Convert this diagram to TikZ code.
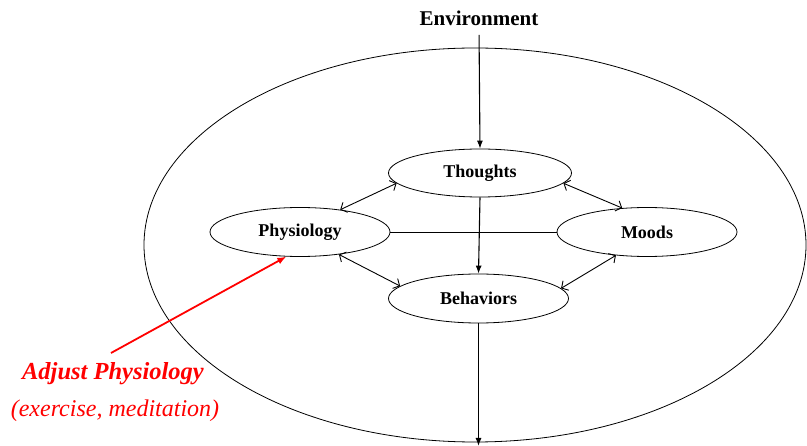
\documentclass[tikz,border=0pt]{standalone}
\usepackage{fontspec}
\setmainfont{Liberation Serif}
\usetikzlibrary{shapes.geometric,arrows.meta}
\begin{document}
\begin{tikzpicture}[x=1pt,y=-1pt,
  state/.style={draw,ellipse,line width=0.8pt,minimum width=180pt,minimum height=49pt,inner sep=0pt,
     font=\fontsize{18}{20}\selectfont\bfseries},
  flow/.style={line width=1.1pt,-{Latex[length=8pt,width=6pt]}},
  link/.style={line width=0.9pt,{Straight Barb[length=5pt,width=11pt]}-{Straight Barb[length=5pt,width=11pt]}},
  redtxt/.style={text=red}]
\useasboundingbox (0,0) rectangle (807,446);
% outer ellipse
\draw[line width=0.8pt] (475,245) ellipse [x radius=331,y radius=197];
% nodes
\node[font=\fontsize{21}{23}\selectfont\bfseries] (env) at (479,18) {Environment};
\node[state,minimum width=183pt,minimum height=48pt] (T) at (480,173) {Thoughts};
\node[state] (P) at (300,232) {Physiology};
\node[state] (M) at (647,232) {Moods};
\node[state,minimum height=49pt] (B) at (478.5,298.5) {Behaviors};
\coordinate (out) at (478.5,446);
\coordinate (redstart) at (111,353);
\node[redtxt,font=\fontsize{24.5}{26}\selectfont\bfseries\itshape] (adj) at (113,374) {Adjust Physiology};
\node[redtxt,font=\fontsize{24}{26}\selectfont\itshape] (ex) at (115,411) {(exercise, meditation)};
% connectors
\draw[line width=0.8pt] (P.east) -- (M.west);
\draw[flow,shorten <=6pt] (env.south) -- (T.north);
\draw[flow] (T.south) -- (B.north);
\draw[flow] (B.south) -- (out);
\draw[link] (P.29) -- (T.187);
\draw[link] (T.-7) -- (M.136);
\draw[link] (P.-30) -- (B.171);
\draw[link] (M.217) -- (B.7);
\draw[red,line width=1.8pt,-{Latex[length=9pt,width=7pt]}] (redstart) -- (P.241);
\end{tikzpicture}
\end{document}
